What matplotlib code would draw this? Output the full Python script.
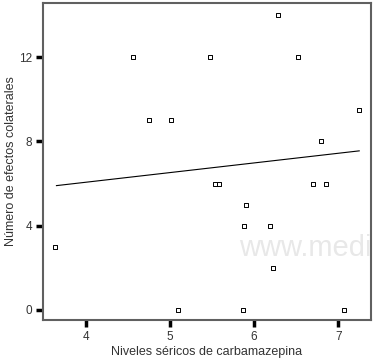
import numpy as np
import matplotlib
matplotlib.use("Agg")
from matplotlib import pyplot as plt

plt.rcParams["font.family"] = ["Liberation Sans", "DejaVu Sans"]

# serum carbamazepine level vs number of side effects
niveles = [3.63, 4.56, 4.75, 5.01, 5.10, 5.48, 5.54, 5.58, 5.87, 5.88, 5.90,
           6.19, 6.23, 6.29, 6.52, 6.70, 6.79, 6.85, 7.07, 7.25]
efectos = [3, 12, 9, 9, 0, 12, 6, 6, 0, 4, 5,
           4, 2, 14, 12, 6, 8, 6, 0, 9.5]

# fitted regression line
fit_x = [3.65, 7.25]
fit_y = [5.9, 7.55]

x_ticks = [4, 5, 6, 7]
y_ticks = [0, 4, 8, 12]

fig = plt.figure(figsize=(3.79, 3.60), dpi=100)
ax = fig.add_axes([43 / 379, 40 / 360, 328 / 379, 317 / 360])

# watermark
fig.text(239 / 379, (360 - 256) / 360, "www.medi", fontsize=21, color="#e8e8e8",
         va="baseline", zorder=0)

ax.plot(fit_x, fit_y, color="black", lw=0.8)
ax.scatter(niveles, efectos, marker="s", s=10, facecolors="white",
           edgecolors="black", linewidths=0.7, zorder=3)

ax.set_xlim(3.49, 7.39)
ax.set_ylim(-0.48, 14.57)
ax.set_xticks(x_ticks)
ax.set_yticks(y_ticks)
ax.tick_params(direction="out", length=5, width=2.5, labelsize=8.5,
               color="black", labelcolor="#333333", pad=3)
for s in ax.spines.values():
    s.set_color("#606060")
    s.set_linewidth(1.5)
ax.patch.set_alpha(0)

ax.set_xlabel("Niveles séricos de carbamazepina", fontsize=9, labelpad=2,
              color="#333333")
ax.set_ylabel("Número de efectos colaterales", fontsize=9, labelpad=1,
              color="#333333")

fig.savefig("out.png", dpi=100)
